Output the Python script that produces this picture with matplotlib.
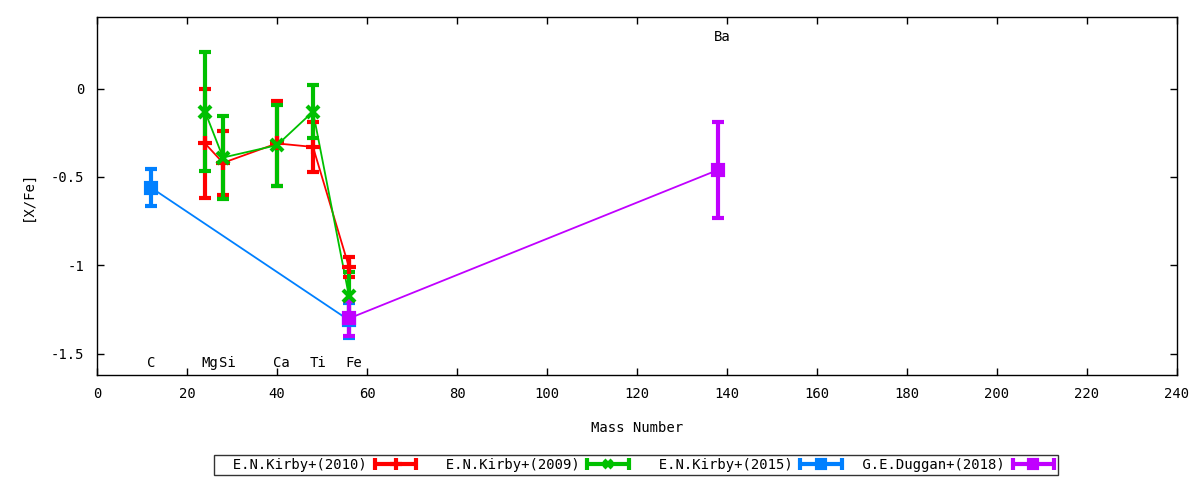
import matplotlib
matplotlib.use("Agg")
import matplotlib.pyplot as plt
from matplotlib.lines import Line2D
from matplotlib.legend_handler import HandlerBase

plt.rcParams['font.family'] = ['DejaVu Sans Mono']

# Data
kirby2010_x = [24, 28, 40, 48, 56]
kirby2010_y = [-0.31, -0.42, -0.31, -0.33, -1.01]
kirby2010_e = [0.31, 0.18, 0.24, 0.14, 0.055]

kirby2009_x = [24, 28, 40, 48, 56]
kirby2009_y = [-0.13, -0.39, -0.32, -0.13, -1.175]
kirby2009_e = [0.335, 0.235, 0.23, 0.15, 0.14]

kirby2015_x = [12, 56]
kirby2015_y = [-0.56, -1.31]
kirby2015_e = [0.105, 0.10]

duggan2018_x = [56, 138]
duggan2018_y = [-1.30, -0.46]
duggan2018_e = [0.10, 0.27]

series_labels = ['E.N.Kirby+(2010)', 'E.N.Kirby+(2009)', 'E.N.Kirby+(2015)', 'G.E.Duggan+(2018)']

elem_labels = ['C', 'Mg', 'Si', 'Ca', 'Ti', 'Fe']
elem_x = [12, 25, 29, 41, 49, 57]
ba_label = 'Ba'
ba_x = 139

FS = 10


class EBHandler(HandlerBase):
    def create_artists(self, legend, orig_handle, xdescent, ydescent, width,
                       height, fontsize, trans):
        c = orig_handle.get_color()
        m = orig_handle.get_marker()
        ms = orig_handle.get_markersize()
        y = (height - ydescent) / 2
        x0, x1 = -xdescent, width - xdescent
        line = Line2D([x0, x1], [y, y], color=c, lw=3, solid_capstyle='butt')
        caps = Line2D([x0 + 1, x1 - 1], [y, y], ls='none', marker='|', ms=9,
                      mew=3, color=c)
        mk = Line2D([(x0 + x1) / 2], [y], ls='none', marker=m, ms=ms * 0.8,
                    mew=3, color=c)
        for a in (line, caps, mk):
            a.set_transform(trans)
        return [line, caps, mk]


fig = plt.figure(figsize=(12, 4.8), dpi=100)
ax = fig.add_axes([97/1200, 105/480, 1080/1200, 358/480])

series = [
    (kirby2010_x, kirby2010_y, kirby2010_e, '#ff0000', '+', 10),
    (kirby2009_x, kirby2009_y, kirby2009_e, '#00c000', 'x', 8),
    (kirby2015_x, kirby2015_y, kirby2015_e, '#0080ff', 's', 7),
    (duggan2018_x, duggan2018_y, duggan2018_e, '#c000ff', 's', 7),
]
proxies = []
for (xs, ys, es, c, m, ms), lab in zip(series, series_labels):
    ax.plot(xs, ys, color=c, lw=1.3, zorder=2)
    ax.errorbar(xs, ys, yerr=es, fmt=m, color=c, ecolor=c, elinewidth=3,
                capsize=4, capthick=3, ms=ms, mew=3, zorder=3)
    proxies.append(Line2D([], [], color=c, marker=m, ms=ms,
                          label=lab.rjust(18)))

for lab, x in zip(elem_labels, elem_x):
    ax.text(x, -1.55, lab, ha='center', va='center', fontsize=FS)
ax.text(ba_x, 0.29, ba_label, ha='center', va='center', fontsize=FS)

ax.set_xlim(0, 240)
ax.set_ylim(-1.62, 0.405)
ax.set_xticks(range(0, 241, 20))
ax.set_yticks([0, -0.5, -1, -1.5])
ax.set_yticklabels(['0', '-0.5', '-1', '-1.5'])
ax.tick_params(direction='in', top=True, right=True, length=5, labelsize=FS, width=1)
ax.tick_params(axis='x', pad=9)
ax.tick_params(axis='y', pad=9)
for s in ax.spines.values():
    s.set_linewidth(1)
ax.set_xlabel('Mass Number', fontsize=FS, labelpad=14)
ax.set_ylabel('[X/Fe]', fontsize=FS, labelpad=12)

hm = {p: EBHandler() for p in proxies}
leg = fig.legend(handles=proxies, handler_map=hm, loc='center',
                 bbox_to_anchor=(636/1200, 1 - 465/480),
                 ncol=4, markerfirst=False, frameon=True, fancybox=False,
                 edgecolor='black', fontsize=FS, handlelength=3.2,
                 columnspacing=0.8, borderpad=0.2, handletextpad=0.45,
                 borderaxespad=0)
leg.get_frame().set_linewidth(1)

fig.savefig('out.png', dpi=100)
